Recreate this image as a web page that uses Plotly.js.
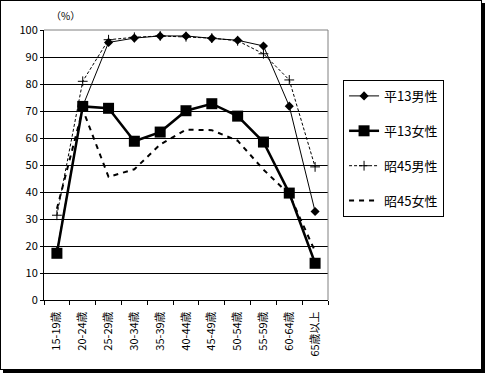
<!DOCTYPE html>
<html>
<head>
<meta charset="utf-8">
<script src="https://cdn.plot.ly/plotly-3.0.1.min.js"></script>
<style>
html,body{margin:0;padding:0;background:#fff;}
#wrap{position:relative;width:485px;height:373px;}
#plot{position:absolute;left:0;top:0;width:485px;height:373px;}
#frame{position:absolute;left:0;top:0;width:482px;height:370px;box-sizing:border-box;border:1px solid #000;box-shadow:3px 3px 0 #000;pointer-events:none;}
</style>
</head>
<body>
<div id="wrap"><div id="plot"></div><div id="frame"></div></div>
<script>
const categories = ["15-19歳","20-24歳","25-29歳","30-34歳","35-39歳","40-44歳","45-49歳","50-54歳","55-59歳","60-64歳","65歳以上"];
const h13Male   = [18.0, 71.8, 95.4, 97.0, 97.8, 97.8, 96.9, 96.2, 94.1, 71.8, 32.8];
const h13Female = [17.3, 71.7, 71.0, 58.8, 62.2, 70.1, 72.7, 68.1, 58.5, 39.6, 13.6];
const s45Male   = [31.4, 81.0, 96.4, 97.3, 97.8, 97.5, 97.0, 96.0, 91.2, 81.5, 49.3];
const s45Female = [33.8, 70.6, 45.6, 48.4, 57.6, 63.1, 62.9, 59.0, 48.3, 39.1, 18.0];
const seriesNames = ["平13男性","平13女性","昭45男性","昭45女性"];
const yTicks = [0,10,20,30,40,50,60,70,80,90,100];

const FONT = '"Noto Sans CJK JP", "Noto Sans", sans-serif';

const traces = [
  {x: categories, y: h13Male, name: seriesNames[0], mode: 'lines+markers', legendgroup: 'a',
   line: {color: '#000', width: 1}, marker: {symbol: 'diamond', size: 7, color: '#000'}},
  {x: categories, y: h13Female, name: seriesNames[1], mode: 'lines+markers', legendgroup: 'b',
   line: {color: '#000', width: 2.5}, marker: {symbol: 'square', size: 11, color: '#000'}},
  {x: categories, y: s45Male, name: seriesNames[2], mode: 'lines+markers', legendgroup: 'c',
   line: {color: '#000', width: 1, dash: '3px,2px'}, marker: {symbol: 'cross-thin', size: 7, color: '#000', line: {color: '#000', width: 1}}},
  {x: categories, y: s45Female, name: seriesNames[3], mode: 'lines', legendgroup: 'd',
   line: {color: '#000', width: 2, dash: '5px,5px'}}
];

const layout = {
  width: 485, height: 373,
  margin: {l: 44, r: 157, t: 30, b: 73},
  paper_bgcolor: '#fff', plot_bgcolor: '#fff',
  font: {family: FONT, size: 10, color: '#000'},
  showlegend: true,
  legend: {x: 1.053, xanchor: 'left', y: 0.815, yanchor: 'top',
    bordercolor: '#000', borderwidth: 1, bgcolor: '#fff',
    font: {family: FONT, size: 13, color: '#000'},
    traceorder: 'grouped', tracegroupgap: 15},
  xaxis: {type: 'category', range: [-0.5, 10.5], tickangle: -90,
    showline: true, linecolor: '#000', linewidth: 1, mirror: false,
    ticks: 'outside', ticklen: 4, tickcolor: '#000', tickson: 'boundaries',
    ticklabelstandoff: 6,
    showgrid: false, zeroline: false, fixedrange: true,
    tickfont: {family: FONT, size: 11, color: '#000'}},
  yaxis: {range: [0, 100], tickvals: yTicks, ticktext: yTicks.map(String),
    showline: true, linecolor: '#000', linewidth: 1,
    ticks: 'outside', ticklen: 3, tickcolor: '#000',
    showgrid: true, gridcolor: '#000', gridwidth: 1, zeroline: false, fixedrange: true,
    tickfont: {family: FONT, size: 11, color: '#000'}},
  shapes: [
    {type: 'line', xref: 'paper', yref: 'paper', x0: 0, x1: 1, y0: 1, y1: 1, line: {color: '#808080', width: 1}, layer: 'above'},
    {type: 'line', xref: 'paper', yref: 'paper', x0: 1, x1: 1, y0: 0, y1: 1, line: {color: '#808080', width: 1}, layer: 'above'}
  ],
  annotations: [
    {text: '（%）', xref: 'paper', yref: 'paper', x: 0.074, y: 1.052, showarrow: false,
     xanchor: 'center', yanchor: 'middle', font: {family: FONT, size: 10, color: '#000'}}
  ]
};

Plotly.newPlot('plot', traces, layout, {displayModeBar: false, staticPlot: true});
</script>
</body>
</html>
